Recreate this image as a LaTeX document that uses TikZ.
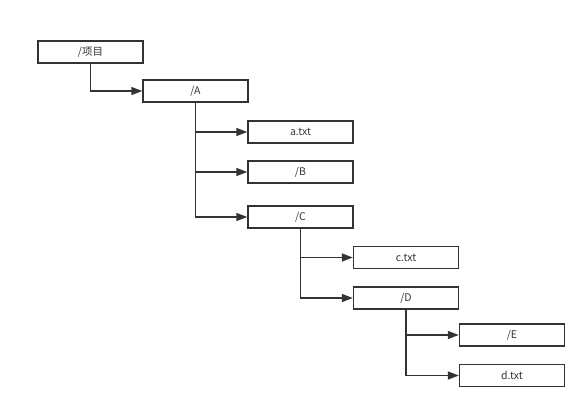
\documentclass[tikz,border=0pt]{standalone}
\usepackage{fontspec}
\newfontfamily\cjk{Noto Sans CJK SC}
\usetikzlibrary{positioning,arrows.meta}
\definecolor{linegray}{HTML}{333333}
\tikzset{
	dirbox/.style = {draw = linegray, line width = 1.4pt, minimum width = 105pt, minimum height = 22pt, inner sep = 0pt, font = \cjk\fontsize{10.5}{12}\selectfont, text = linegray},
	link/.style = {draw = linegray, line width = 1.4pt, -{Triangle[length=11pt, width=8pt]}}
}
\begin{document}
\begin{tikzpicture}[x = 1pt, y = -1pt]
		\useasboundingbox (0,0) rectangle (588,408);
		\node[dirbox] (proj) at (90.5,52) {/项目};
		\node[dirbox] (A) at (195.5,91) {/A};
		\node[dirbox] (atxt) at (300.5,132) {a.txt};
		\node[dirbox] (B) at (300.5,172) {/B};
		\node[dirbox] (C) at (300.5,217) {/C};
		\node[dirbox] (ctxt) at (406,257.5) {c.txt};
		\node[dirbox] (D) at (406,298) {/D};
		\node[dirbox] (E) at (512,335) {/E};
		\node[dirbox] (dtxt) at (512,375.5) {d.txt};
		% tree links
		\draw[link] (proj.south) |- (A.west);
		\foreach \child in {atxt, B, C}
			\draw[link] (A.south) |- (\child.west);
		\foreach \child in {ctxt, D}
			\draw[link] (C.south) |- (\child.west);
		\foreach \child in {E, dtxt}
			\draw[link] (D.south) |- (\child.west);
	\end{tikzpicture}
\end{document}
